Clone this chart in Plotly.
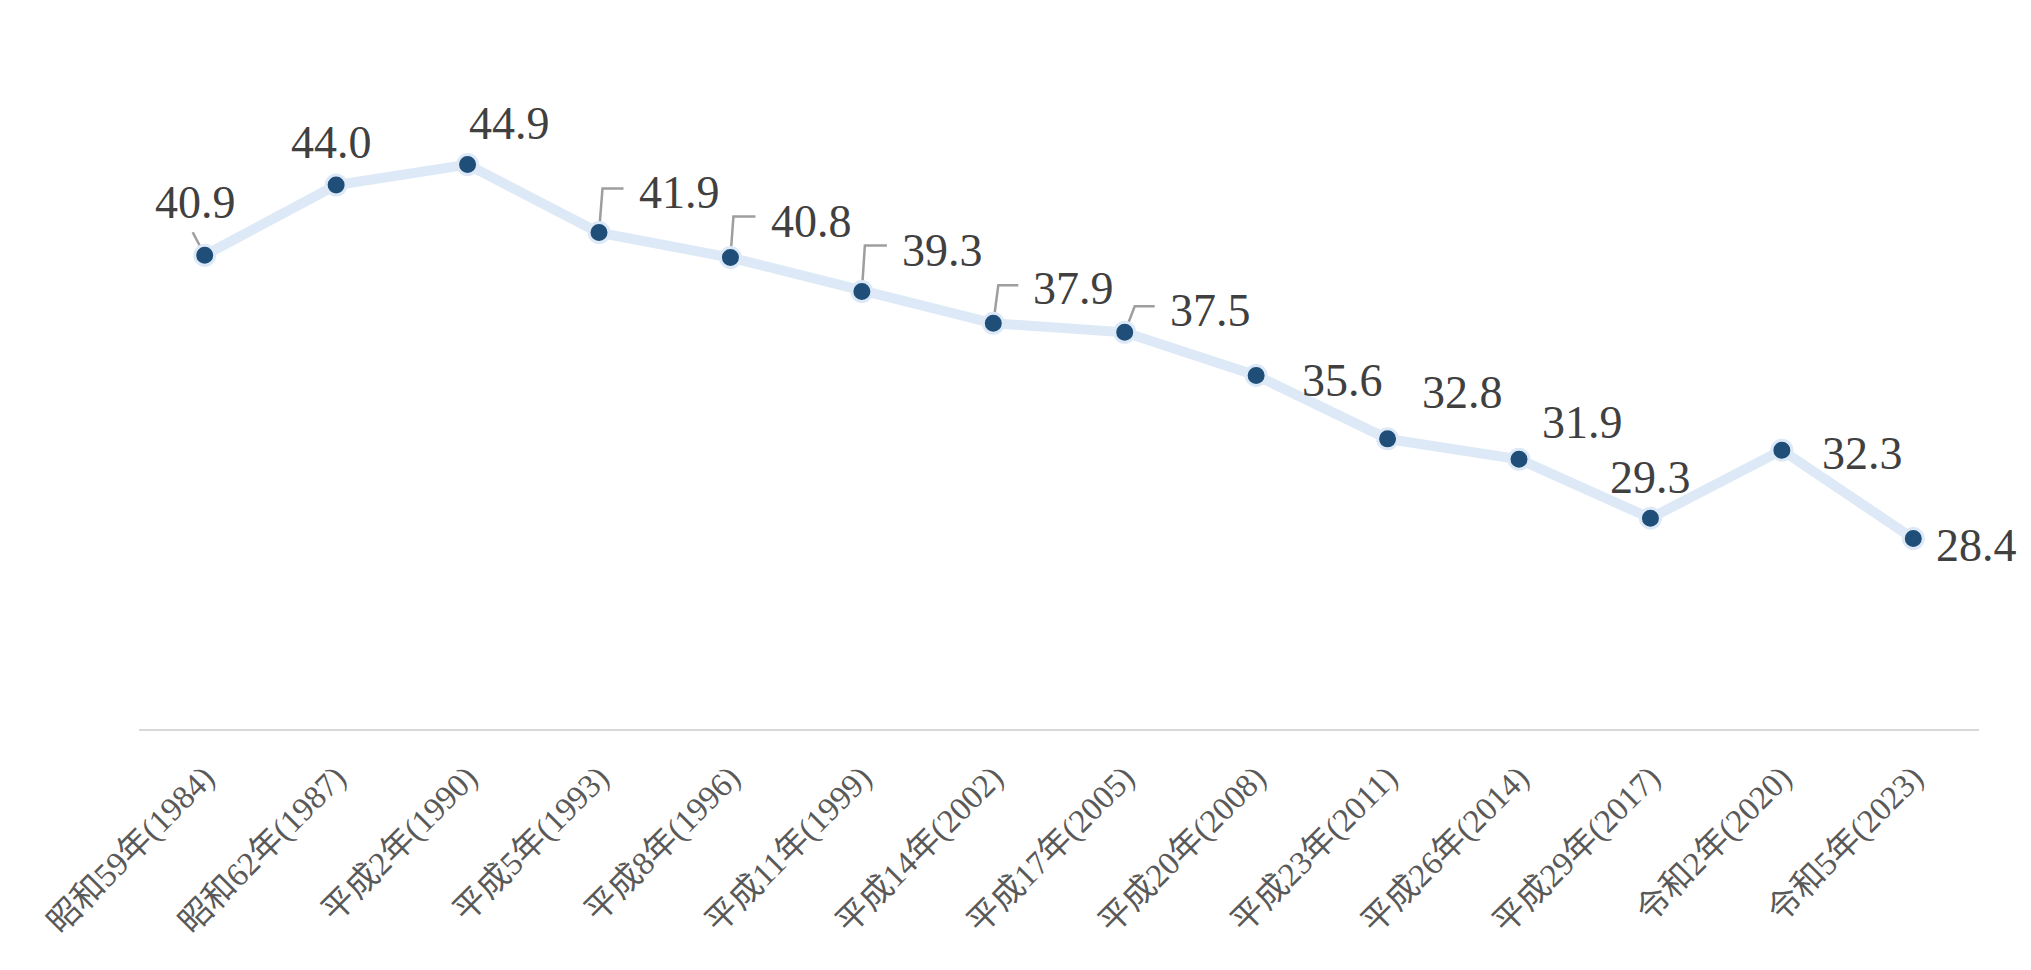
import plotly.graph_objects as go

# ---- data ----
categories = ["昭和59年(1984)", "昭和62年(1987)", "平成2年(1990)", "平成5年(1993)",
              "平成8年(1996)", "平成11年(1999)", "平成14年(2002)", "平成17年(2005)",
              "平成20年(2008)", "平成23年(2011)", "平成26年(2014)", "平成29年(2017)",
              "令和2年(2020)", "令和5年(2023)"]
values = [40.9, 44.0, 44.9, 41.9, 40.8, 39.3, 37.9, 37.5, 35.6, 32.8, 31.9, 29.3, 32.3, 28.4]

# ---- label placement (pixel offsets from each point, screen coords: +x right, +y down) ----
label_dx = [-9, -5, 42, 80, 81, 81, 80, 86, 86, 75, 63, 0, 81, 63]
label_dy = [-53, -43, -41, -40, -36, -41, -35, -22, 5, -46, -37, -41, 3, 7]
# leader lines: list of (index, [(dx,dy), ...]) pixel offsets from point
leaders = [
    (0, [(0, 0), (-12, -23)]),
    (3, [(0, 0), (3.5, -44), (24.5, -44)]),
    (4, [(0, 0), (3, -41), (25, -41)]),
    (5, [(0, 0), (3, -46), (25, -46)]),
    (6, [(0, 0), (5, -38), (25, -38)]),
    (7, [(0, 0), (10, -26), (30, -26)]),
]

FONT = "Liberation Serif, Noto Sans CJK JP, serif"

fig = go.Figure()

# leader line shapes (drawn below the trace)
for idx, pts in leaders:
    path = "M" + " L".join(f"{dx},{-dy}" for dx, dy in pts)
    fig.add_shape(type="path", path=path, xref="x", yref="y",
                  xsizemode="pixel", ysizemode="pixel",
                  xanchor=categories[idx], yanchor=values[idx],
                  line=dict(color="#9e9e9e", width=2.5), layer="below")

fig.add_trace(go.Scatter(
    x=categories, y=values, mode="lines+markers",
    line=dict(color="#dde9f6", width=10),
    marker=dict(size=20, color="#1f4e79", line=dict(color="#dde9f6", width=3)),
    hoverinfo="x+y", showlegend=False,
))

for i, (c, v) in enumerate(zip(categories, values)):
    fig.add_annotation(x=c, y=v, xref="x", yref="y", text=f"{v:.1f}",
                       showarrow=False, xshift=label_dx[i], yshift=-label_dy[i],
                       font=dict(family=FONT, size=46, color="#404040"))

fig.update_layout(
    width=2031, height=970,
    margin=dict(l=139, r=52, t=49, b=241),
    paper_bgcolor="white", plot_bgcolor="white",
    font=dict(family=FONT),
    xaxis=dict(
        type="category", range=[-0.5, len(categories) - 0.5],
        showgrid=False, zeroline=False,
        showline=True, linecolor="#d9d9d9", linewidth=2,
        ticks="", tickangle=-45, ticklabelstandoff=14,
        tickfont=dict(family=FONT, size=33, color="#595959"),
    ),
    yaxis=dict(range=[20, 50], showgrid=False, zeroline=False,
               showline=False, showticklabels=False, ticks=""),
)

fig.write_html("out.html")
